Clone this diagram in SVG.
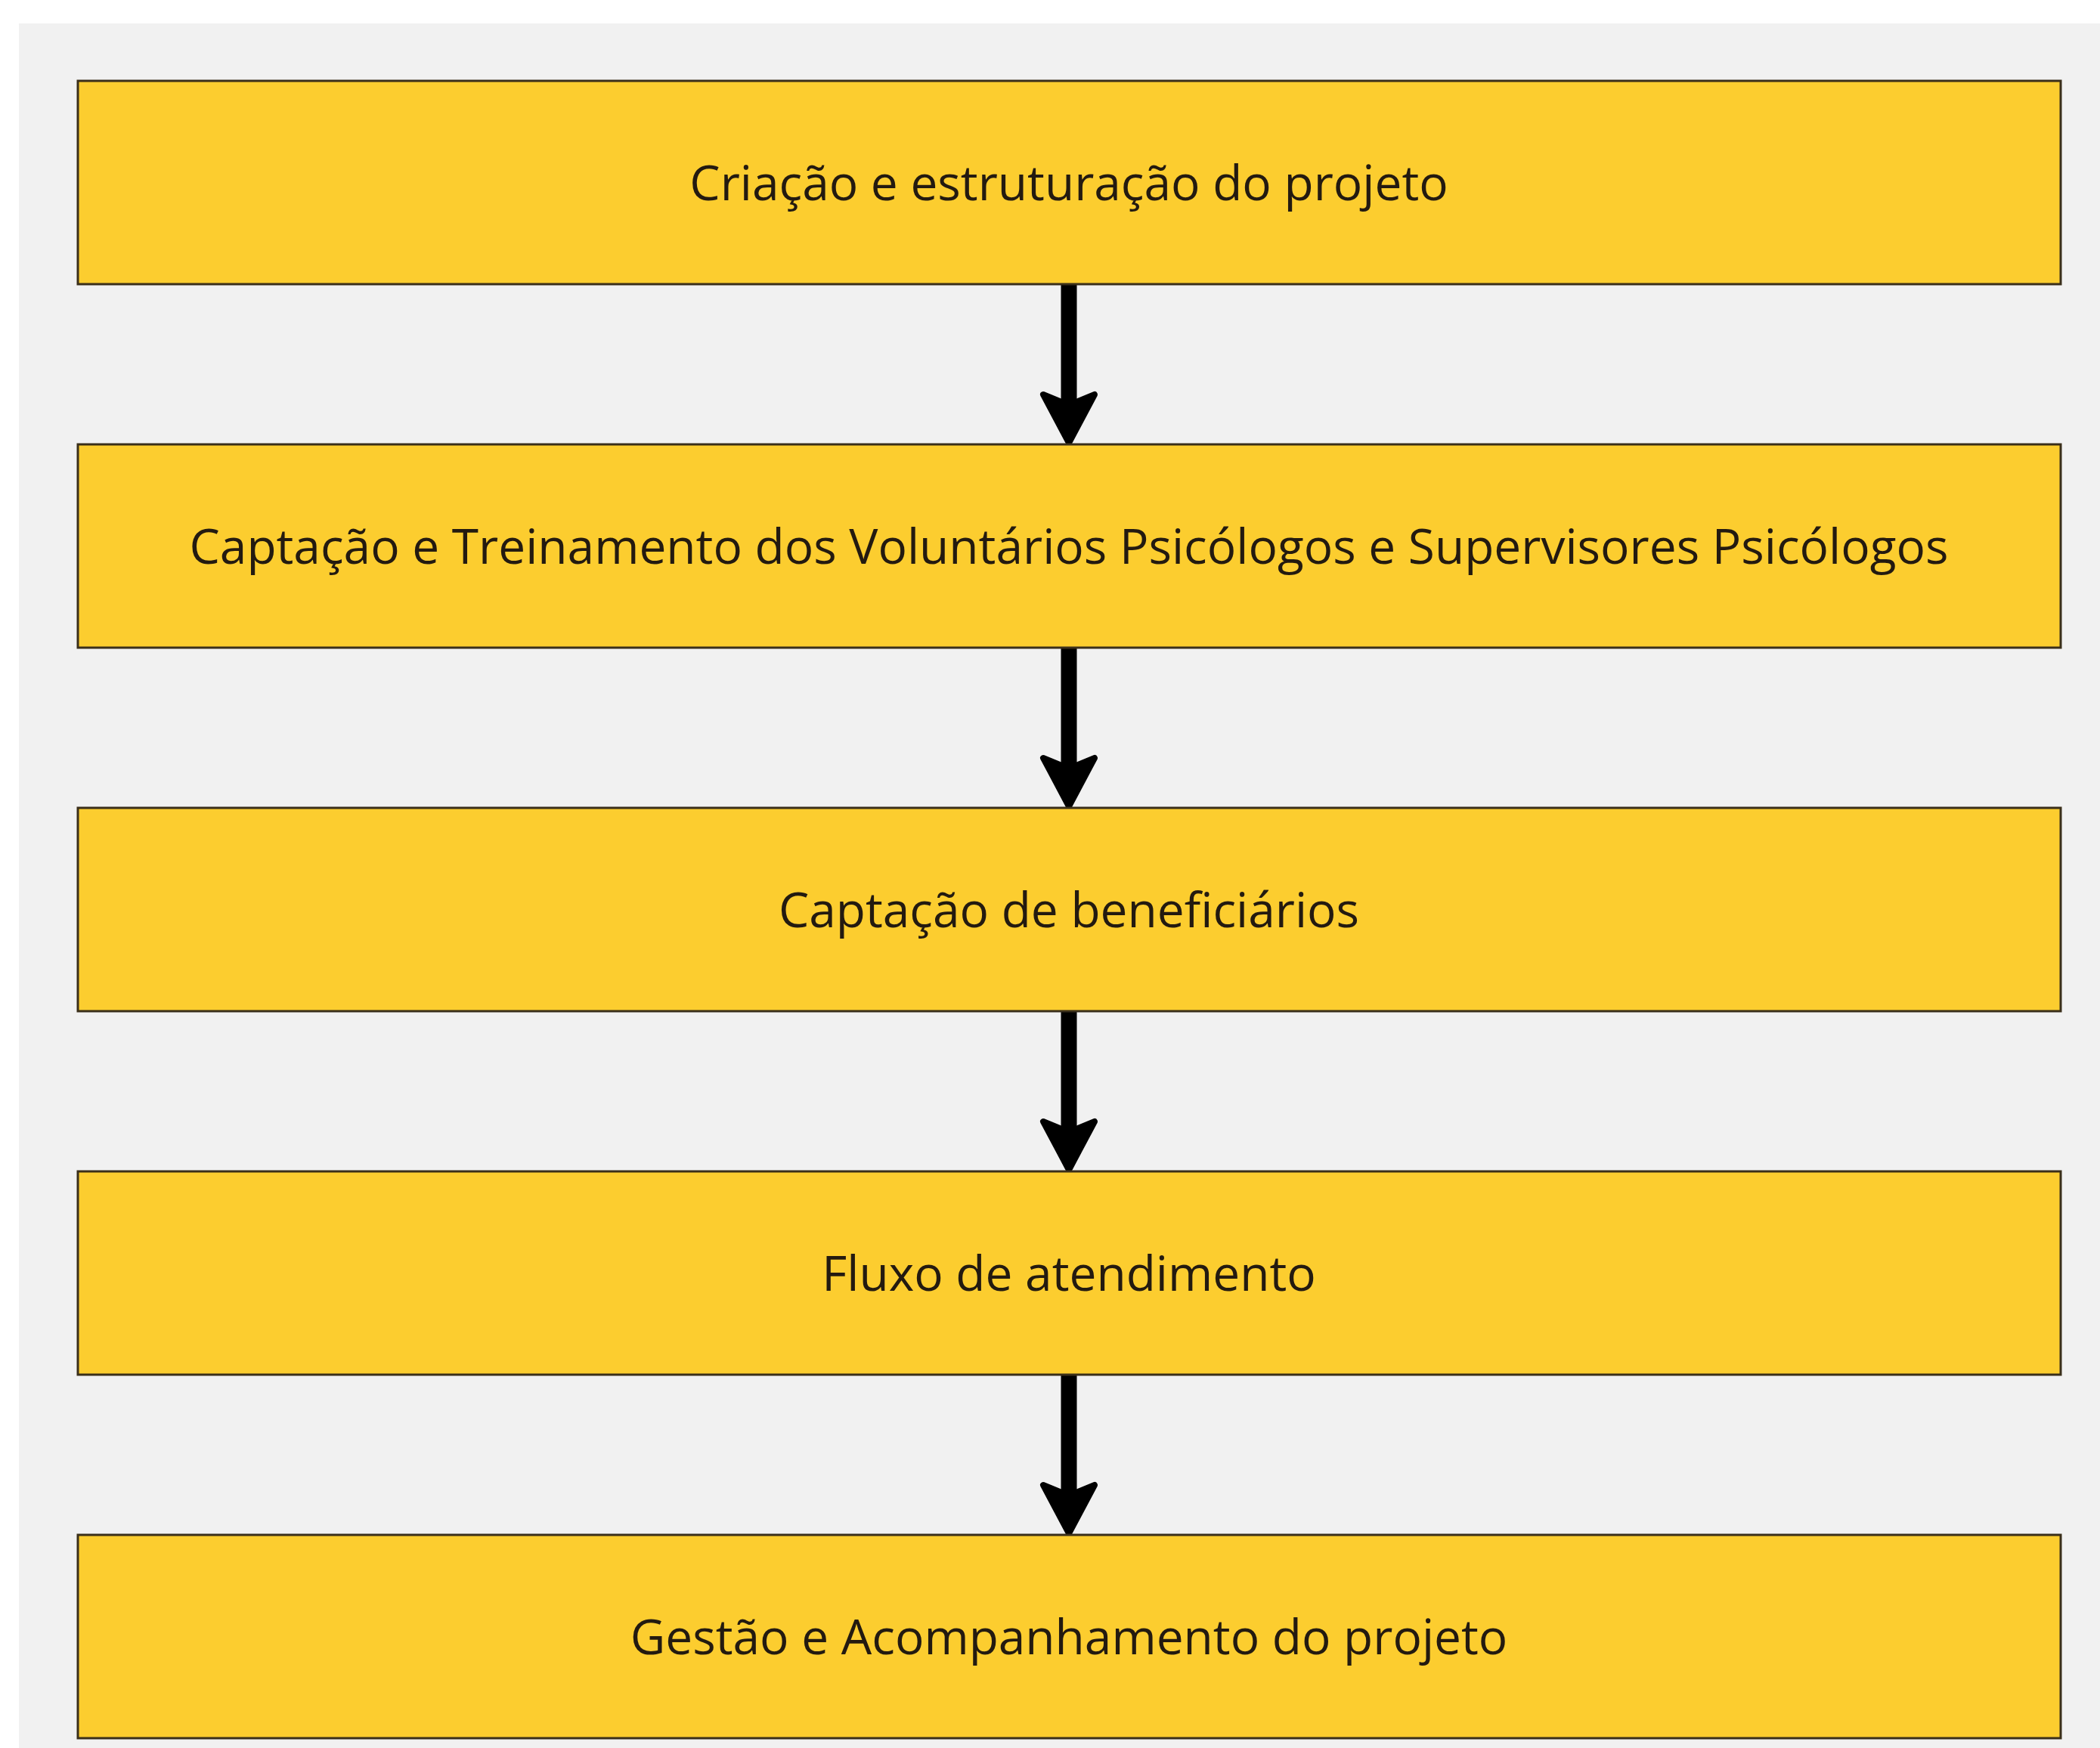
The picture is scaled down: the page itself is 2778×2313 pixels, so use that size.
<svg xmlns="http://www.w3.org/2000/svg" width="2778" height="2313" viewBox="0 0 2778 2313">
  <style>
    .box { fill: #FCCD2F; stroke: #3a2f1a; stroke-width: 3; }
    .lbl { font-family: "Open Sans", "Noto Sans", sans-serif; font-size: 64px; fill: #231a10; text-anchor: middle; }
    .shaft { stroke: #000; stroke-width: 21; fill: none; marker-end: url(#head); }
  </style>
  <defs>
    <marker id="head" markerUnits="userSpaceOnUse" viewBox="-25 -45 100 90" markerWidth="100" markerHeight="90" refX="0" refY="0" orient="auto" overflow="visible">
      <path d="M -12,-34 L 52,0 L -12,34 L 2,0 Z" fill="#000" stroke="#000" stroke-width="8" stroke-linejoin="round"/>
    </marker>
  </defs>
  <rect x="0" y="0" width="2778" height="2313" fill="#ffffff"/>
  <rect x="25" y="31" width="2753" height="2282" fill="#f1f1f1"/>

  <g id="connectors">
    <line class="shaft" x1="1414" y1="377" x2="1414" y2="534"/>
    <line class="shaft" x1="1414" y1="858" x2="1414" y2="1015"/>
    <line class="shaft" x1="1414" y1="1339" x2="1414" y2="1496"/>
    <line class="shaft" x1="1414" y1="1820" x2="1414" y2="1977"/>
  </g>

  <g id="node1">
    <rect class="box" x="103" y="107" width="2623" height="269"/>
    <text class="lbl" x="1414" y="265">Criação e estruturação do projeto</text>
  </g>
  <g id="node2">
    <rect class="box" x="103" y="588" width="2623" height="269"/>
    <text class="lbl" x="1414" y="746">Captação e Treinamento dos Voluntários Psicólogos e Supervisores Psicólogos</text>
  </g>
  <g id="node3">
    <rect class="box" x="103" y="1069" width="2623" height="269"/>
    <text class="lbl" x="1414" y="1227">Captação de beneficiários</text>
  </g>
  <g id="node4">
    <rect class="box" x="103" y="1550" width="2623" height="269"/>
    <text class="lbl" x="1414" y="1708">Fluxo de atendimento</text>
  </g>
  <g id="node5">
    <rect class="box" x="103" y="2031" width="2623" height="269"/>
    <text class="lbl" x="1414" y="2189">Gestão e Acompanhamento do projeto</text>
  </g>
</svg>
